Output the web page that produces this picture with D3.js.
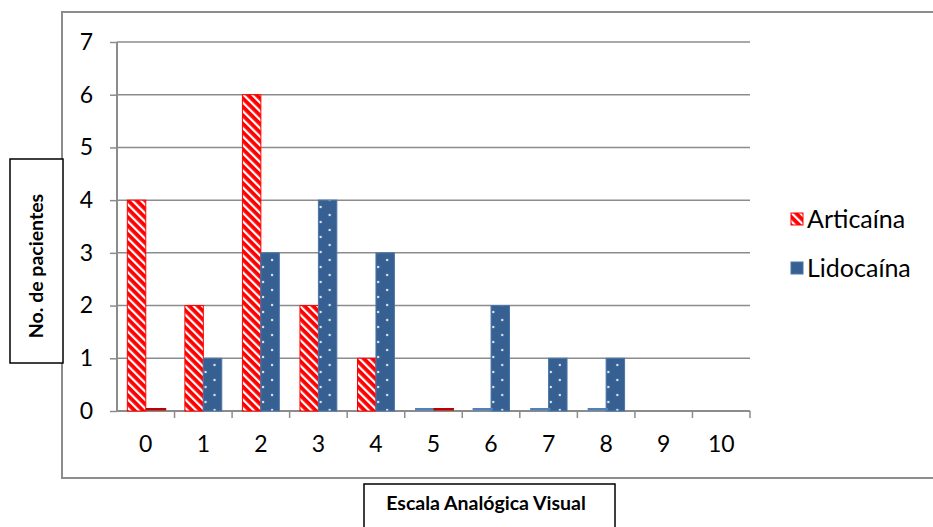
<!DOCTYPE html>
<html>
<head>
<meta charset="utf-8">
<script src="https://cdn.jsdelivr.net/npm/d3@7"></script>
<style>
  html, body { margin: 0; padding: 0; background: #fff; }
  svg { display: block; font-family: Lato, "Open Sans", "Liberation Sans", sans-serif; }
</style>
</head>
<body>
<svg id="chart" width="933" height="527"></svg>
<script>
// ---- data ----
const categories = ["0", "1", "2", "3", "4", "5", "6", "7", "8", "9", "10"];
const seriesNames = ["Articaína", "Lidocaína"];
const articaina = [4, 2, 6, 2, 1, 0, 0, 0, 0, 0, 0];
const lidocaina = [0, 1, 3, 4, 3, 0, 2, 1, 1, 0, 0];
// colour of the thin baseline stub drawn for a zero value (null = none)
const articainaZeroStub = [null, null, null, null, null, "#4f81bd", "#4f81bd", "#4f81bd", "#4f81bd", null, null];
const lidocainaZeroStub = ["#c00000", null, null, null, null, "#c00000", null, null, null, null, null];
const yTicks = [0, 1, 2, 3, 4, 5, 6, 7];
const yTitle = "No. de pacientes";
const xTitle = "Escala Analógica Visual";

const svg = d3.select("#chart");
const defs = svg.append("defs");

// hatch pattern (Articaína)
const hatch = defs.append("pattern")
  .attr("id", "hatch").attr("patternUnits", "userSpaceOnUse")
  .attr("width", 6).attr("height", 6)
  .attr("patternTransform", "rotate(-45)");
hatch.append("rect").attr("width", 6).attr("height", 6).attr("fill", "#ff0000");
hatch.append("rect").attr("x", 0).attr("width", 2.2).attr("height", 6).attr("fill", "#ffffff");

// dotted pattern (Lidocaína)
const dots = defs.append("pattern")
  .attr("id", "dots").attr("patternUnits", "userSpaceOnUse")
  .attr("width", 18).attr("height", 30);
dots.append("rect").attr("width", 18).attr("height", 30).attr("fill", "#376092");
[[4, 5], [13, 12], [4, 20], [13, 27]].forEach(([cx, cy]) =>
  dots.append("circle").attr("cx", cx).attr("cy", cy).attr("r", 1.2).attr("fill", "#dfe7f2"));

// outer chart border
svg.append("rect").attr("x", 62).attr("y", 12).attr("width", 900).attr("height", 466)
  .attr("fill", "none").attr("stroke", "#8c8c8c").attr("stroke-width", 2);

const pLeft = 117, pRight = 750, pTop = 42, pBottom = 411;
const x = d3.scaleBand().domain(categories).range([pLeft, pRight]).padding(0);
const x1 = d3.scaleBand().domain(seriesNames).range([0, x.bandwidth()]).paddingInner(0).paddingOuter(0.56);
const y = d3.scaleLinear().domain([0, 7]).range([pBottom, pTop]);

// gridlines
svg.append("g").selectAll("line").data(yTicks.filter(d => d > 0)).join("line")
  .attr("x1", pLeft).attr("x2", pRight)
  .attr("y1", d => y(d)).attr("y2", d => y(d))
  .attr("stroke", "#8c8c8c").attr("stroke-width", 1.5);

// y axis
const yAxis = svg.append("g").attr("transform", `translate(${pLeft},0)`)
  .call(d3.axisLeft(y).tickValues(yTicks).tickSize(7).tickPadding(17).tickFormat(d3.format("d")));
yAxis.select(".domain").attr("stroke", "#8c8c8c").attr("stroke-width", 2).attr("d", `M0,${pTop}V${pBottom}`);
yAxis.selectAll(".tick line").attr("stroke", "#8c8c8c").attr("stroke-width", 1.5);
yAxis.selectAll(".tick text").attr("font-size", 23).attr("fill", "#000").attr("font-family", "Lato, 'Open Sans', sans-serif");

// x axis
const xAxis = svg.append("g").attr("transform", `translate(0,${pBottom})`)
  .call(d3.axisBottom(x).tickSize(0).tickPadding(25));
xAxis.select(".domain").attr("stroke", "#8c8c8c").attr("stroke-width", 2).attr("d", `M${pLeft},0H${pRight}`);
xAxis.selectAll(".tick text").attr("font-size", 23).attr("fill", "#000").attr("font-family", "Lato, 'Open Sans', sans-serif");
// category boundary ticks
svg.append("g").selectAll("line").data(categories).join("line")
  .attr("x1", d => x(d) + x.bandwidth()).attr("x2", d => x(d) + x.bandwidth())
  .attr("y1", pBottom).attr("y2", pBottom + 7)
  .attr("stroke", "#8c8c8c").attr("stroke-width", 1.5);

// bars
const rows = categories.map((c, i) => ({ c, vals: [
  { s: seriesNames[0], v: articaina[i], stub: articainaZeroStub[i] },
  { s: seriesNames[1], v: lidocaina[i], stub: lidocainaZeroStub[i] }
]}));
const fills = { "Articaína": "url(#hatch)", "Lidocaína": "url(#dots)" };
const strokes = { "Articaína": "#ff0000", "Lidocaína": "#4a74a8" };

const g = svg.append("g").selectAll("g").data(rows).join("g")
  .attr("transform", d => `translate(${x(d.c)},0)`);
g.selectAll("rect.bar").data(d => d.vals.filter(v => v.v > 0)).join("rect")
  .attr("class", "bar")
  .attr("x", d => x1(d.s)).attr("width", x1.bandwidth())
  .attr("y", d => y(d.v)).attr("height", d => y(0) - y(d.v))
  .attr("fill", d => fills[d.s]).attr("stroke", d => strokes[d.s]).attr("stroke-width", 1);
g.selectAll("rect.stub").data(d => d.vals.filter(v => v.v === 0 && v.stub)).join("rect")
  .attr("class", "stub")
  .attr("x", d => x1(d.s)).attr("width", x1.bandwidth() + 2)
  .attr("y", y(0) - 3).attr("height", 2.5)
  .attr("fill", d => d.stub);

// legend
const legend = svg.append("g");
const legendY = [219, 268];
seriesNames.forEach((s, i) => {
  legend.append("rect").attr("x", 791).attr("y", legendY[i] - 6).attr("width", 12).attr("height", 12)
    .attr("fill", fills[s]).attr("stroke", strokes[s]).attr("stroke-width", 1);
  legend.append("text").attr("x", 807).attr("y", legendY[i]).attr("dy", "0.35em")
    .attr("font-size", 25).attr("fill", "#000").text(s);
});

// y title box
svg.append("rect").attr("x", 10).attr("y", 159).attr("width", 53).attr("height", 204)
  .attr("fill", "#fff").attr("stroke", "#000").attr("stroke-width", 1.5);
svg.append("text").attr("transform", "translate(36,266) rotate(-90)")
  .attr("text-anchor", "middle").attr("dy", "0.35em")
  .attr("font-size", 19.5).attr("font-weight", "bold").attr("fill", "#000").text(yTitle);

// x title box
svg.append("rect").attr("x", 364).attr("y", 484).attr("width", 251).attr("height", 60)
  .attr("fill", "#fff").attr("stroke", "#000").attr("stroke-width", 1.5);
svg.append("text").attr("x", 486).attr("y", 503).attr("text-anchor", "middle").attr("dy", "0.35em")
  .attr("font-size", 19.5).attr("font-weight", "bold").attr("fill", "#000").text(xTitle);
</script>
</body>
</html>
